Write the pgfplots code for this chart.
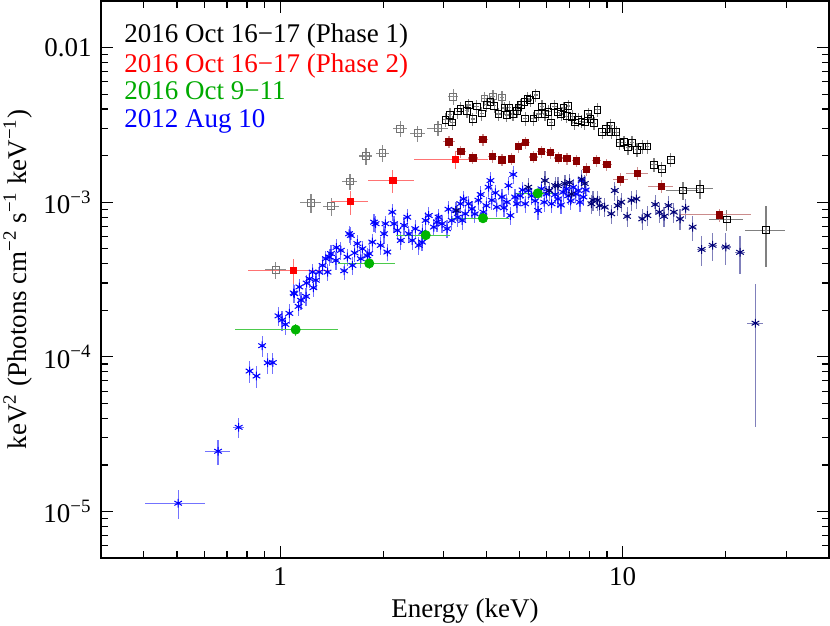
\documentclass[border=0pt]{standalone}
\usepackage{pgfplots}
\pgfplotsset{compat=1.18}
\usepackage{fontspec}
\setmainfont{Liberation Serif}
\definecolor{dred}{RGB}{140,0,0}
\definecolor{mygreen}{RGB}{0,180,0}
\definecolor{lgreen}{RGB}{0,170,0}
\definecolor{navyb}{RGB}{0,0,120}
\newcommand{\fs}{\fontsize{13.5}{16}\selectfont}
\begin{document}
\fs
\begin{tikzpicture}
\begin{axis}[
  at={(0,0)}, anchor=south west,
  scale only axis, width=364pt, height=278.5pt,
  xmode=log, ymode=log,
  xmin=0.3, xmax=40, ymin=5e-6, ymax=0.02,
  xtick={1,10}, xticklabels={1,10},
  ytick={1e-5,1e-4,1e-3,1e-2},
  yticklabels={10\textsuperscript{−5},10\textsuperscript{−4},10\textsuperscript{−3},0.01},
  minor xtick={0.4,0.5,0.6,0.7,0.8,0.9,2,3,4,5,6,7,8,9,20,30},
  minor ytick={6e-6,7e-6,8e-6,9e-6,2e-5,3e-5,4e-5,5e-5,6e-5,7e-5,8e-5,9e-5,2e-4,3e-4,4e-4,5e-4,6e-4,7e-4,8e-4,9e-4,2e-3,3e-3,4e-3,5e-3,6e-3,7e-3,8e-3,9e-3},
  tick align=inside,
  major tick length=6pt, minor tick length=3.5pt,
  tick style={black, line width=0.6pt},
  axis line style={line width=0.75pt},
  tick label style={font=\fs},
  label style={font=\fs},
  xlabel={Energy (keV)},
  xlabel style={yshift=2.5pt},
  ylabel={keV\textsuperscript{2} (Photons cm\textsuperscript{−2} s\textsuperscript{−1} keV\textsuperscript{−1})},
  ylabel style={yshift=-3.5pt},
  error bars/error mark=none,
]
% 2012 Aug 10 (low energy, blue)
\addplot[only marks, mark=asterisk, mark size=2.2pt, blue, mark options={line width=0.5pt},
  error bars/.cd, x dir=both, x explicit, y dir=both, y explicit,
  error bar style={blue!55, line width=0.6pt}]
  table[x=x, y=y, x error=ex, y error=ey] {
x y ex ey
0.504 1.13e-5 0.10 2.4e-6
0.659 2.45e-5 0.057 4.4e-6
0.757 3.50e-5 0.03 5.2e-6
0.814 8.09e-5 0.015 1.3e-5
0.853 7.51e-5 0.015 1.2e-5
0.886 1.18e-4 0.015 1.8e-5
0.920 9.15e-5 0.015 1.4e-5
0.952 9.18e-5 0.015 1.4e-5
0.989 1.84e-4 0.018 2.6e-5
1.013 1.73e-4 0.018 2.5e-5
1.036 1.62e-4 0.018 2.4e-5
1.064 1.91e-4 0.018 2.7e-5
1.095 2.59e-4 0.02 3.5e-5
1.100 2.56e-4 0.02 3.4e-5
1.132 2.12e-4 0.02 2.9e-5
1.138 2.83e-4 0.02 3.7e-5
1.151 2.32e-4 0.02 3.1e-5
1.190 2.46e-4 0.02 3.3e-5
1.195 3.00e-4 0.02 3.9e-5
1.217 3.20e-4 0.02 4.2e-5
1.244 3.53e-4 0.02 4.6e-5
1.250 2.80e-4 0.02 3.7e-5
1.272 3.13e-4 0.02 4.1e-5
1.300 3.53e-4 0.025 4.6e-5
1.330 3.90e-4 0.025 5.1e-5
1.360 4.31e-4 0.025 5.6e-5
1.375 3.53e-4 0.025 4.6e-5
1.390 4.42e-4 0.025 5.7e-5
1.407 4.65e-4 0.025 6.0e-5
1.455 4.20e-4 0.03 5.5e-5
1.460 5.10e-4 0.03 6.6e-5
1.504 4.88e-4 0.03 6.3e-5
1.538 3.60e-4 0.03 4.7e-5
1.572 4.42e-4 0.03 5.7e-5
1.590 6.25e-4 0.03 8.1e-5
1.608 6.10e-4 0.03 7.9e-5
1.626 3.90e-4 0.03 5.1e-5
1.650 4.70e-4 0.03 6.1e-5
1.680 5.40e-4 0.035 7.0e-5
1.720 4.31e-4 0.035 5.6e-5
1.738 5.00e-4 0.035 6.5e-5
1.798 4.50e-4 0.035 5.9e-5
1.820 4.65e-4 0.035 6.0e-5
1.858 5.52e-4 0.035 7.2e-5
1.880 7.43e-4 0.035 9.7e-5
1.900 7.26e-4 0.04 9.4e-5
1.966 5.26e-4 0.04 6.8e-5
2.010 6.25e-4 0.04 8.1e-5
2.030 7.26e-4 0.04 9.4e-5
2.055 4.76e-4 0.04 6.2e-5
2.125 8.62e-4 0.04 1.1e-4
2.150 7.26e-4 0.04 9.4e-5
2.198 6.57e-4 0.045 8.5e-5
2.250 5.66e-4 0.045 7.4e-5
2.300 7.08e-4 0.045 9.2e-5
2.350 8.00e-4 0.045 1.0e-4
2.376 6.25e-4 0.045 8.1e-5
2.430 5.66e-4 0.05 7.4e-5
2.480 6.74e-4 0.05 8.8e-5
2.540 5.26e-4 0.05 6.8e-5
2.595 5.52e-4 0.05 7.2e-5
2.600 6.40e-4 0.05 8.3e-5
2.660 7.62e-4 0.05 9.9e-5
2.715 8.20e-4 0.055 1.07e-4
2.810 6.90e-4 0.055 9.0e-5
2.870 7.43e-4 0.055 9.7e-5
2.900 8.00e-4 0.06 1.04e-4
2.970 7.26e-4 0.06 9.4e-5
3.070 6.74e-4 0.06 8.8e-5
3.100 9.00e-4 0.06 1.17e-4
3.170 7.62e-4 0.06 9.9e-5
3.250 8.84e-4 0.065 1.15e-4
3.300 8.00e-4 0.065 1.04e-4
3.360 9.77e-4 0.065 1.27e-4
3.400 7.62e-4 0.065 9.9e-5
3.430 1.05e-3 0.07 1.37e-4
3.470 8.42e-4 0.07 1.09e-4
3.550 9.77e-4 0.07 1.27e-4
3.630 9.06e-4 0.07 1.18e-4
3.700 8.40e-4 0.075 1.09e-4
3.790 1.03e-3 0.075 1.34e-4
3.850 1.12e-3 0.075 1.46e-4
3.920 8.62e-4 0.08 1.12e-4
4.000 9.50e-4 0.08 1.24e-4
4.060 1.25e-3 0.08 1.63e-4
4.110 1.38e-3 0.08 1.79e-4
4.150 1.03e-3 0.08 1.34e-4
4.250 1.15e-3 0.085 1.5e-4
4.290 9.29e-4 0.085 1.21e-4
4.440 1.08e-3 0.09 1.4e-4
4.500 9.20e-4 0.09 1.2e-4
4.590 1.00e-3 0.09 1.3e-4
4.640 1.28e-3 0.09 1.66e-4
4.700 8.20e-4 0.09 1.07e-4
4.790 1.51e-3 0.095 1.96e-4
4.850 1.08e-3 0.095 1.4e-4
4.910 9.77e-4 0.1 1.27e-4
5.020 1.10e-3 0.1 1.43e-4
5.100 1.20e-3 0.1 1.56e-4
5.190 9.77e-4 0.1 1.27e-4
5.300 1.19e-3 0.1 1.55e-4
5.420 1.10e-3 0.11 1.43e-4
5.550 1.02e-3 0.11 1.33e-4
5.660 8.84e-4 0.11 1.15e-4
5.790 1.22e-3 0.12 1.59e-4
5.900 1.00e-3 0.12 1.3e-4
5.990 1.13e-3 0.12 1.47e-4
6.100 1.19e-3 0.12 1.55e-4
6.200 9.77e-4 0.12 1.27e-4
6.350 1.12e-3 0.13 1.46e-4
6.470 1.05e-3 0.13 1.37e-4
6.600 9.60e-4 0.13 1.25e-4
6.700 1.16e-3 0.13 1.51e-4
6.850 1.22e-3 0.14 1.59e-4
6.930 1.10e-3 0.14 1.43e-4
7.050 1.02e-3 0.14 1.33e-4
7.170 1.25e-3 0.14 1.63e-4
7.300 1.13e-3 0.15 1.47e-4
7.410 1.19e-3 0.15 1.55e-4
7.500 1.00e-3 0.15 1.3e-4
7.590 1.38e-3 0.15 1.79e-4
7.680 1.08e-3 0.15 1.4e-4
7.800 1.20e-3 0.16 1.56e-4
};
% 2012 Aug 10 (high energy, navy)
\addplot[only marks, mark=asterisk, mark size=2.2pt, navyb, mark options={line width=0.5pt},
  error bars/.cd, x dir=both, x explicit, y dir=both, y explicit,
  error bar style={navyb!50, line width=0.6pt}]
  table[x=x, y=y, x error=ex, y error=ey] {
x y ex ey
3.28 8.84e-4 0.07 1.3e-4
5.30 1.25e-3 0.1 1.8e-4
5.93 1.38e-3 0.12 2.0e-4
6.10 1.19e-3 0.12 1.7e-4
6.35 1.28e-3 0.13 1.8e-4
6.47 1.28e-3 0.13 1.8e-4
6.78 1.32e-3 0.14 1.9e-4
7.00 1.34e-3 0.14 1.9e-4
7.09 1.13e-3 0.14 1.6e-4
7.59 1.41e-3 0.15 2.0e-4
7.75 1.32e-3 0.15 1.9e-4
8.10 9.77e-4 0.16 1.4e-4
8.19 1.03e-3 0.16 1.5e-4
8.45 1.03e-3 0.17 1.5e-4
8.56 9.50e-4 0.17 1.4e-4
8.86 9.29e-4 0.18 1.3e-4
9.26 8.42e-4 0.18 1.2e-4
9.48 1.19e-3 0.19 1.7e-4
9.67 9.50e-4 0.19 1.4e-4
9.90 1.00e-3 0.2 1.4e-4
10.3 8.10e-4 0.2 1.2e-4
10.6 1.03e-3 0.21 1.5e-4
10.96 1.05e-3 0.22 1.5e-4
11.4 7.80e-4 0.23 1.2e-4
11.8 8.20e-4 0.24 1.2e-4
12.44 9.66e-4 0.25 1.4e-4
12.8 8.62e-4 0.26 1.3e-4
13.2 8.10e-4 0.27 1.2e-4
13.6 9.50e-4 0.28 1.4e-4
14.1 8.62e-4 0.3 1.3e-4
14.7 7.80e-4 0.3 1.2e-4
15.25 9.15e-4 0.32 1.4e-4
16.0 6.90e-4 0.4 1.3e-4
17.0 4.95e-4 0.5 1.1e-4
18.3 5.26e-4 0.6 1.1e-4
20.0 5.13e-4 0.7 1.2e-4
22.0 4.74e-4 0.8 1.3e-4
24.4 1.65e-4 1.3 1.3e-4
};
% Phase 1 (low energy, gray)
\addplot[only marks, mark=square, mark size=1.7pt, black!55, mark options={line width=0.5pt},
  error bars/.cd, x dir=both, x explicit, y dir=both, y explicit,
  error bar style={black!45, line width=0.6pt}]
  table[x=x, y=y, x error=ex, y error=ey] {
x y ex ey
0.971 3.66e-4 0.07 4.5e-5
1.23 9.91e-4 0.085 1.4e-4
1.41 9.42e-4 0.08 1.3e-4
1.60 1.36e-3 0.08 1.6e-4
1.78 1.99e-3 0.08 2.5e-4
1.99 2.07e-3 0.09 2.6e-4
2.24 2.98e-3 0.10 3.5e-4
2.52 2.79e-3 0.12 3.3e-4
2.89 3.01e-3 0.20 3.4e-4
3.20 4.81e-3 0.10 5.5e-4
3.95 4.69e-3 0.06 5e-4
4.18 4.83e-3 0.06 5e-4
4.44 4.76e-3 0.06 5e-4
};
% Phase 1 (black)
\addplot[only marks, mark=square, mark size=1.7pt, black, mark options={line width=0.5pt},
  error bars/.cd, x dir=both, x explicit, y dir=both, y explicit,
  error bar style={black!50, line width=0.6pt}]
  table[x=x, y=y, x error=ex, y error=ey] {
x y ex ey
3.04 3.42e-3 0.05 3.4e-4
3.13 3.68e-3 0.05 3.7e-4
3.18 3.28e-3 0.05 3.3e-4
3.30 3.86e-3 0.05 3.9e-4
3.36 4.04e-3 0.05 4.0e-4
3.51 3.91e-3 0.05 3.9e-4
3.55 4.25e-3 0.05 4.2e-4
3.65 3.45e-3 0.05 3.5e-4
3.75 4.16e-3 0.06 4.2e-4
3.88 3.75e-3 0.06 3.8e-4
4.01 4.27e-3 0.06 4.3e-4
4.11 4.42e-3 0.06 4.4e-4
4.22 4.21e-3 0.06 4.2e-4
4.34 3.72e-3 0.06 3.7e-4
4.52 4.06e-3 0.07 4.1e-4
4.59 3.66e-3 0.07 3.7e-4
4.66 4.10e-3 0.07 4.1e-4
4.78 3.72e-3 0.07 3.7e-4
4.91 3.91e-3 0.07 3.9e-4
4.96 4.10e-3 0.07 4.1e-4
5.05 4.25e-3 0.08 4.2e-4
5.17 4.47e-3 0.08 4.5e-4
5.19 3.48e-3 0.08 3.5e-4
5.27 4.69e-3 0.08 4.7e-4
5.37 4.58e-3 0.08 4.6e-4
5.49 3.48e-3 0.08 3.5e-4
5.57 4.93e-3 0.08 4.9e-4
5.67 3.72e-3 0.09 3.7e-4
5.81 4.16e-3 0.09 4.2e-4
5.93 3.72e-3 0.09 3.7e-4
6.07 3.85e-3 0.09 3.9e-4
6.18 3.28e-3 0.09 3.3e-4
6.31 4.16e-3 0.1 4.2e-4
6.46 3.81e-3 0.1 3.8e-4
6.61 3.72e-3 0.1 3.7e-4
6.72 4.06e-3 0.1 4.1e-4
6.86 3.59e-3 0.1 3.6e-4
6.93 4.19e-3 0.1 4.2e-4
7.12 3.57e-3 0.11 3.6e-4
7.25 3.28e-3 0.11 3.3e-4
7.41 3.42e-3 0.11 3.4e-4
7.58 3.33e-3 0.11 3.3e-4
7.75 3.28e-3 0.12 3.3e-4
7.93 3.72e-3 0.12 3.7e-4
8.05 3.45e-3 0.12 3.5e-4
8.24 3.24e-3 0.12 3.2e-4
8.44 3.96e-3 0.13 4.0e-4
8.71 2.83e-3 0.13 2.8e-4
8.96 2.98e-3 0.13 3.0e-4
9.23 3.13e-3 0.14 3.1e-4
9.26 2.83e-3 0.14 2.8e-4
9.58 2.83e-3 0.14 2.8e-4
9.80 2.42e-3 0.15 2.4e-4
10.09 2.44e-3 0.15 2.4e-4
10.36 2.26e-3 0.15 2.3e-4
10.64 2.42e-3 0.16 2.4e-4
11.01 2.18e-3 0.17 2.2e-4
11.40 2.29e-3 0.17 2.3e-4
11.79 2.29e-3 0.18 2.3e-4
12.33 1.75e-3 0.25 1.9e-4
13.0 1.63e-3 0.3 1.8e-4
13.82 1.88e-3 0.4 2.0e-4
15.0 1.19e-3 1.6 1.6e-4
16.8 1.22e-3 1.6 1.7e-4
20.1 7.73e-4 2.3 1.2e-4
26.2 6.60e-4 3.5 2.8e-4
};
% Phase 2 (dark red)
\addplot[only marks, mark=square*, mark size=1.6pt, dred,
  error bars/.cd, x dir=both, x explicit, y dir=both, y explicit,
  error bar style={dred!45, line width=0.6pt}]
  table[x=x, y=y, x error=ex, y error=ey] {
x y ex ey
3.11 2.46e-3 0.12 2.2e-4
3.37 2.13e-3 0.12 1.9e-4
3.65 1.93e-3 0.12 1.7e-4
3.91 2.54e-3 0.12 2.3e-4
4.17 1.98e-3 0.12 1.8e-4
4.44 1.88e-3 0.12 1.7e-4
4.73 1.91e-3 0.12 1.7e-4
4.96 2.29e-3 0.12 2.1e-4
5.20 2.43e-3 0.15 2.2e-4
5.49 1.96e-3 0.15 1.8e-4
5.80 2.13e-3 0.18 1.9e-4
6.15 2.09e-3 0.18 1.9e-4
6.50 1.93e-3 0.18 1.7e-4
6.88 1.92e-3 0.18 1.7e-4
7.32 1.85e-3 0.2 1.7e-4
7.84 1.63e-3 0.22 1.5e-4
8.37 1.86e-3 0.25 1.7e-4
8.98 1.75e-3 0.3 1.6e-4
9.84 1.41e-3 0.5 1.3e-4
11.03 1.54e-3 0.8 1.4e-4
12.95 1.27e-3 1.1 1.2e-4
19.18 8.30e-4 4.5 8.0e-5
};
% Phase 2 (red)
\addplot[only marks, mark=square*, mark size=1.6pt, red,
  error bars/.cd, x dir=both, x explicit, y dir=both, y explicit,
  error bar style={red!55, line width=0.6pt}]
  table[x=x, y=y, x error=ex, y error=ey] {
x y ex ey
1.095 3.62e-4 0.29 6.5e-5
1.604 1.01e-3 0.20 1.8e-4
2.131 1.38e-3 0.32 2.4e-4
3.254 1.886e-3 0.80 2.5e-4
};
% 2016 Oct 9-11 (green)
\addplot[only marks, mark=*, mark size=2.3pt, mygreen,
  error bars/.cd, x dir=both, x explicit, y dir=both, y explicit,
  error bar style={mygreen!70, line width=0.6pt}]
  table[x=x, y=y, x error=ex, y error=ey] {
x y ex ey
1.11 1.50e-4 0.37 1.3e-5
1.82 4.02e-4 0.34 3.2e-5
2.66 6.12e-4 0.48 4.5e-5
3.91 7.88e-4 0.76 5.5e-5
5.65 1.14e-3 0.80 8.0e-5
};
\node[anchor=mid west, inner sep=0pt, text=black, font=\fs] at (rel axis cs:0.0316,0.936) {2016 Oct 16−17 (Phase 1)};
\node[anchor=mid west, inner sep=0pt, text=red, font=\fs] at (rel axis cs:0.0316,0.883) {2016 Oct 16−17 (Phase 2)};
\node[anchor=mid west, inner sep=0pt, text=lgreen, font=\fs] at (rel axis cs:0.0316,0.835) {2016 Oct 9−11};
\node[anchor=mid west, inner sep=0pt, text=blue, font=\fs] at (rel axis cs:0.0316,0.784) {2012 Aug 10};
\end{axis}
\pgfresetboundingbox
\path (-50.5pt,-34pt) rectangle (364.5pt,279pt);
\end{tikzpicture}
\end{document}
